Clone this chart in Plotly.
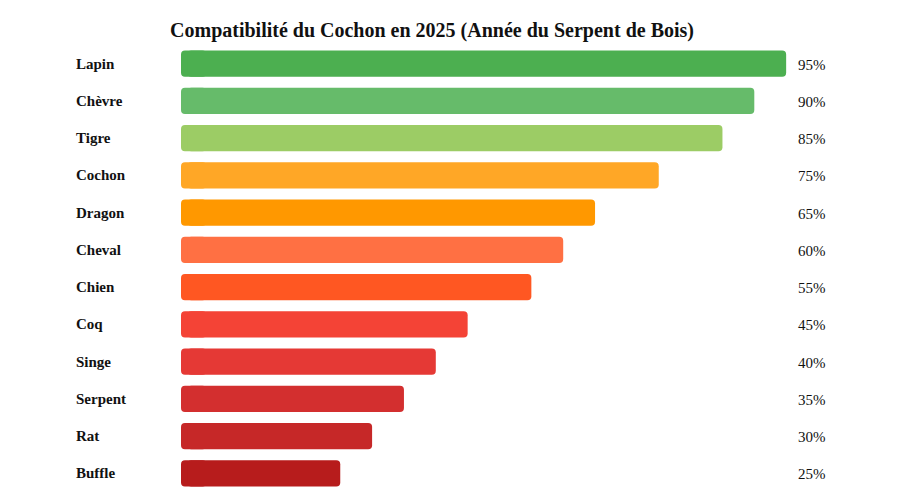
import plotly.graph_objects as go

signs = ["Lapin", "Chèvre", "Tigre", "Cochon", "Dragon", "Cheval", "Chien", "Coq", "Singe", "Serpent", "Rat", "Buffle"]
scores = [95, 90, 85, 75, 65, 60, 55, 45, 40, 35, 30, 25]
colors = ["#4CAF50", "#66BB6A", "#9CCC65", "#FFA726", "#FF9800", "#FF7043",
          "#FF5722", "#F44336", "#E53935", "#D32F2F", "#C62828", "#B71C1C"]
title = "Compatibilité du Cochon en 2025 (Année du Serpent de Bois)"

FONT = "Liberation Serif, Times New Roman, serif"
CAP = 4.0     # left rounded cap spans 0..CAP (data units)
START = 1.0   # main body starts here, overlapping the cap

fig = go.Figure()
# left rounded cap: negative bar from CAP back to 0 (rounded end on the left)
fig.add_trace(go.Bar(
    x=[-CAP] * len(scores), base=[CAP] * len(scores), y=signs, orientation="h",
    marker=dict(color=colors, cornerradius=4, line=dict(width=0)),
    width=0.7, hoverinfo="skip",
))
# main body with rounded right end
fig.add_trace(go.Bar(
    x=[v - START for v in scores], base=[START] * len(scores), y=signs, orientation="h",
    marker=dict(color=colors, cornerradius=4, line=dict(width=0)),
    width=0.7, customdata=scores, hovertemplate="%{y}: %{customdata}%<extra></extra>",
))

annotations = []
for s, v in zip(signs, scores):
    annotations.append(dict(x=-0.168, xref="paper", y=s, yref="y", text=f"<b>{s}</b>",
                            showarrow=False, xanchor="left", yanchor="middle",
                            font=dict(family=FONT, size=15, color="#111")))
    annotations.append(dict(x=0.9655, xref="paper", y=s, yref="y", text=f"{v}%",
                            showarrow=False, xanchor="left", yanchor="middle", yshift=-1,
                            font=dict(family=FONT, size=15, color="#111")))

fig.update_layout(
    width=900, height=500,
    margin=dict(l=181, r=82, t=45, b=8),
    paper_bgcolor="white", plot_bgcolor="white",
    barmode="overlay",
    title=dict(text=f"<b>{title}</b>", x=0.48, xanchor="center", y=0.94, yanchor="middle",
               xref="container",
               font=dict(family=FONT, size=20, color="#111")),
    xaxis=dict(range=[0, 100], visible=False, fixedrange=True),
    yaxis=dict(autorange="reversed", showticklabels=False, showgrid=False,
               zeroline=False, fixedrange=True),
    annotations=annotations,
    showlegend=False,
)

fig.write_html("out.html")
